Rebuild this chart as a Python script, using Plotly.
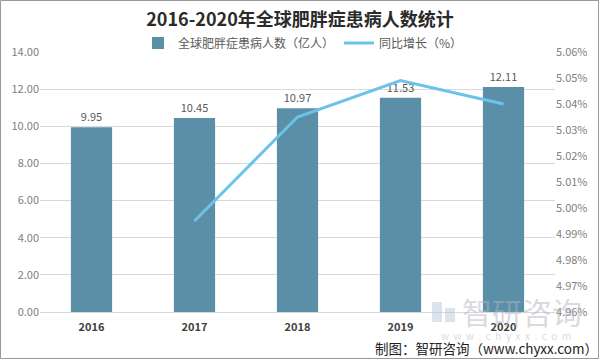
import plotly.graph_objects as go

years = ["2016", "2017", "2018", "2019", "2020"]
patients = [9.95, 10.45, 10.97, 11.53, 12.11]
growth_years = ["2017", "2018", "2019", "2020"]
growth = [4.995, 5.035, 5.049, 5.040]
left_ticks = [0, 2, 4, 6, 8, 10, 12, 14]
right_ticks = [4.96, 4.97, 4.98, 4.99, 5.00, 5.01, 5.02, 5.03, 5.04, 5.05, 5.06]

W, H = 600, 360
L, R, T, B = 40, 45, 52, 48
PW, PH = W - L - R, H - T - B

def px(x):
    return (x - L) / PW

def py(y):
    return (H - B - y) / PH

font_cjk = "Noto Sans CJK SC"

fig = go.Figure()
fig.add_trace(go.Bar(
    x=years, y=patients, name="全球肥胖症患病人数（亿人）",
    marker=dict(color="#5b8fa7", line=dict(width=0)),
    width=0.4,
    text=[f"{v:.2f}" for v in patients], textposition="outside",
    textfont=dict(size=11, color="#595959", family=font_cjk),
    cliponaxis=False,
))
fig.add_trace(go.Scatter(
    x=growth_years, y=growth, name="同比增长（%）", yaxis="y2",
    mode="lines", line=dict(color="#6cc3e8", width=3),
))

fig.update_layout(
    width=W, height=H,
    margin=dict(l=L, r=R, t=T, b=B, autoexpand=False),
    paper_bgcolor="white", plot_bgcolor="white",
    font=dict(family=font_cjk, color="#595959"),
    title=dict(text="<b>2016-2020年全球肥胖症患病人数统计</b>", x=0.5, xref="container",
               y=1 - 20 / H, yref="container", yanchor="middle",
               font=dict(size=18, color="#2b2b2b", family=font_cjk)),
    legend=dict(orientation="h", x=px(303), xanchor="center",
                y=py(43), yanchor="middle",
                font=dict(size=12, color="#595959"), bgcolor="rgba(0,0,0,0)",
                itemwidth=30, tracegroupgap=0),
    bargap=0.6,
    showlegend=True,
    xaxis=dict(type="category", showgrid=False, showline=True, linecolor="#d9d9d9",
               ticks="", tickfont=dict(size=11, color="#404040", family=font_cjk),
               tickprefix="<b>", ticksuffix="</b>", automargin=False, ticklabelstandoff=5),
    yaxis=dict(range=[0, 14], tickvals=left_ticks, ticktext=[f"{v:.2f}" for v in left_ticks],
               showgrid=True, gridcolor="#d9d9d9", zeroline=False, showline=False,
               tickfont=dict(size=11, color="#808080"), ticks="", automargin=False),
    yaxis2=dict(range=[4.96, 5.06], overlaying="y", side="right",
                tickvals=right_ticks, ticktext=[f"{v:.2f}%" for v in right_ticks],
                showgrid=False, zeroline=False, showline=False,
                tickfont=dict(size=11, color="#808080"), automargin=False),
)

# watermark
wm = "rgba(175,182,190,0.5)"
fig.add_annotation(xref="paper", yref="paper", x=px(522), y=py(311), xanchor="center", yanchor="middle",
                   text="智研咨询", showarrow=False,
                   font=dict(size=30, color=wm, family=font_cjk))
fig.add_annotation(xref="paper", yref="paper", x=px(506), y=py(335), xanchor="center", yanchor="middle",
                   text="w  w  w  .  c  h  y  x  x  .  c  o  m",
                   showarrow=False, font=dict(size=10, color=wm, family=font_cjk))
fig.add_shape(type="rect", xref="paper", yref="paper", x0=px(432), x1=px(442), y0=py(322), y1=py(302),
              fillcolor="rgba(175,195,212,0.45)", line=dict(width=0))
fig.add_shape(type="rect", xref="paper", yref="paper", x0=px(445), x1=px(455), y0=py(322), y1=py(308),
              fillcolor="rgba(175,195,212,0.45)", line=dict(width=0))

# source
fig.add_annotation(xref="paper", yref="paper", x=px(600), y=py(348), xanchor="right", yanchor="middle",
                   text="制图：智研咨询（www.chyxx.com）", showarrow=False,
                   font=dict(size=13.5, color="#222222", family=font_cjk))

# border
fig.add_shape(type="rect", xref="paper", yref="paper", x0=px(0.5), x1=px(598.5), y0=py(0.5), y1=py(358.5),
              line=dict(color="#9a9a9a", width=1), fillcolor="rgba(0,0,0,0)", layer="above")

fig.write_html("out.html", config={"displayModeBar": False},
               post_script="document.body.style.margin='0px';")
